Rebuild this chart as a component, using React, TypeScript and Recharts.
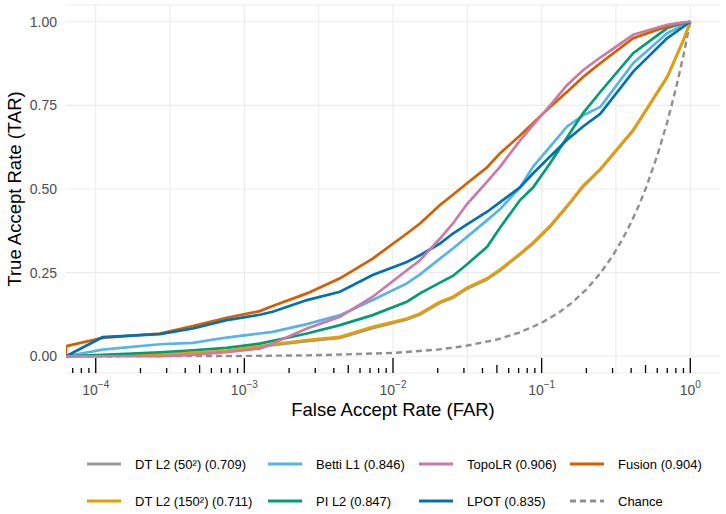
import React from 'react';
import { LineChart, Line, XAxis, YAxis, CartesianGrid, ReferenceLine } from 'recharts';

document.body.style.margin = '0';

// shared FAR grid (first value = left panel edge, i.e. FAR = 0 on the log axis)
const far = [
  6.31e-5, 1.11e-4, 2.7e-4, 4.5e-4, 7.6e-4, 1.27e-3, 1.55e-3, 2.64e-3, 4.4e-3, 7.3e-3,
  0.0124, 0.0152, 0.0207, 0.0253, 0.0315, 0.043, 0.0526, 0.0716, 0.0877, 0.114,
  0.1485, 0.19, 0.248, 0.413, 0.7, 0.9, 1,
];

const dt50Tar = [0, 0.001, 0.005, 0.009, 0.015, 0.027, 0.033, 0.045, 0.055, 0.084, 0.11, 0.125, 0.16, 0.175, 0.202, 0.23, 0.257, 0.304, 0.337, 0.387, 0.447, 0.507, 0.557, 0.674, 0.834, 0.945, 1];
const dt150Tar = [0, 0.002, 0.006, 0.01, 0.016, 0.03, 0.036, 0.048, 0.058, 0.088, 0.113, 0.128, 0.163, 0.178, 0.205, 0.233, 0.26, 0.307, 0.34, 0.39, 0.45, 0.51, 0.56, 0.677, 0.836, 0.946, 1];
const bettiTar = [0, 0.02, 0.036, 0.04, 0.056, 0.068, 0.073, 0.096, 0.123, 0.168, 0.218, 0.245, 0.292, 0.322, 0.357, 0.407, 0.44, 0.505, 0.567, 0.627, 0.687, 0.72, 0.745, 0.876, 0.966, 0.99, 1];
const piTar = [0, 0.004, 0.012, 0.018, 0.025, 0.038, 0.046, 0.068, 0.093, 0.123, 0.163, 0.188, 0.22, 0.24, 0.275, 0.327, 0.385, 0.467, 0.505, 0.577, 0.655, 0.727, 0.79, 0.906, 0.981, 0.996, 1];
const topoTar = [0, 0, 0, 0.004, 0.012, 0.023, 0.038, 0.083, 0.118, 0.178, 0.257, 0.287, 0.352, 0.397, 0.455, 0.522, 0.567, 0.645, 0.692, 0.75, 0.811, 0.855, 0.893, 0.961, 0.991, 0.998, 1];
const lpotTar = [0, 0.057, 0.066, 0.083, 0.108, 0.124, 0.133, 0.168, 0.193, 0.243, 0.282, 0.302, 0.337, 0.367, 0.394, 0.432, 0.461, 0.505, 0.547, 0.597, 0.647, 0.687, 0.725, 0.851, 0.951, 0.985, 1];

// fusion has an extra point at FAR = 0
const fusionFar = [6.31e-5, ...far];
const fusionTar = [0, 0.03, 0.055, 0.068, 0.09, 0.115, 0.135, 0.15, 0.188, 0.233, 0.292, 0.367, 0.397, 0.452, 0.483, 0.517, 0.565, 0.607, 0.66, 0.697, 0.745, 0.791, 0.835, 0.876, 0.951, 0.986, 0.997, 1];

const chanceFar = [6.31e-5, 0.001, 0.003, 0.01, 0.02, 0.03, 0.05, 0.07, 0.1, 0.13, 0.16, 0.2, 0.25, 0.3, 0.35, 0.4, 0.45, 0.5, 0.6, 0.7, 0.8, 0.9, 1];
const chanceTar = [0, 0.001, 0.003, 0.01, 0.02, 0.03, 0.05, 0.07, 0.1, 0.13, 0.16, 0.2, 0.25, 0.3, 0.35, 0.4, 0.45, 0.5, 0.6, 0.7, 0.8, 0.9, 1];

const yTicks = [0, 0.25, 0.5, 0.75, 1];
const decades = [-5, -4, -3, -2, -1, 0];
const mantissas = [1, 2, 3, 4, 5, 6, 7, 8, 9];
const gridExps = [-4, -3.5, -3, -2.5, -2, -1.5, -1, -0.5, 0];

const X_MIN = Math.pow(10, -4.2);
const X_MAX = Math.pow(10, 0.2);
const FONT = 'Liberation Sans, Arial, sans-serif';

const xTicks: number[] = [];
decades.forEach((d) =>
  mantissas.forEach((m) => {
    const v = m * Math.pow(10, d);
    if (v >= X_MIN && v <= 1.0001) xTicks.push(v);
  })
);

const zip = (xs: number[], ys: number[]) => xs.map((x, i) => ({ far: x, tar: ys[i] }));

const series = [
  { name: 'Chance', color: '#8f8f8f', data: zip(chanceFar, chanceTar), dash: '6 4' },
  { name: 'DT L2 (50²) (0.709)', color: '#999999', data: zip(far, dt50Tar) },
  { name: 'DT L2 (150²) (0.711)', color: '#E69F00', data: zip(far, dt150Tar) },
  { name: 'Betti L1 (0.846)', color: '#56B4E9', data: zip(far, bettiTar) },
  { name: 'PI L2 (0.847)', color: '#009E73', data: zip(far, piTar) },
  { name: 'Fusion (0.904)', color: '#D55E00', data: zip(fusionFar, fusionTar) },
  { name: 'LPOT (0.835)', color: '#0072B2', data: zip(far, lpotTar) },
  { name: 'TopoLR (0.906)', color: '#CC79A7', data: zip(far, topoTar) },
];

// legend, column by column
const legendItems = [
  { label: 'DT L2 (50²) (0.709)', color: '#999999', col: 0, row: 0 },
  { label: 'DT L2 (150²) (0.711)', color: '#E69F00', col: 0, row: 1 },
  { label: 'Betti L1 (0.846)', color: '#56B4E9', col: 1, row: 0 },
  { label: 'PI L2 (0.847)', color: '#009E73', col: 1, row: 1 },
  { label: 'TopoLR (0.906)', color: '#CC79A7', col: 2, row: 0 },
  { label: 'LPOT (0.835)', color: '#0072B2', col: 2, row: 1 },
  { label: 'Fusion (0.904)', color: '#D55E00', col: 3, row: 0 },
  { label: 'Chance', color: '#8f8f8f', col: 3, row: 1, dash: '6 4' },
];
const legendColX = [87, 268, 419, 570];
const legendRowY = [464, 501];

const LogTick = (props: any) => {
  const { x, y, payload } = props;
  const v: number = payload.value;
  const e = Math.floor(Math.log10(v) + 1e-9);
  const m = Math.round(v / Math.pow(10, e));
  const len = m === 1 ? 15 : m === 5 ? 8 : 5;
  return (
    <g>
      <line x1={x} x2={x} y1={y} y2={y - len} stroke="#000" strokeWidth={1.3} />
      {m === 1 && (
        <text x={x} y={y + 22} textAnchor="middle" fill="#4d4d4d" fontSize={14} fontFamily={FONT}>
          10
          <tspan dy={-7} fontSize={10}>{e === 0 ? '0' : `−${-e}`}</tspan>
        </text>
      )}
    </g>
  );
};

export default function App() {
  return (
    <div style={{ position: 'relative', width: 726, height: 514, background: '#fff' }}>
      <LineChart width={726} height={514} margin={{ top: 5, right: 6, left: 0, bottom: 81 }}>
        <CartesianGrid stroke="#ebebeb" strokeWidth={1.1} vertical={false} />
        {gridExps.map((g) => (
          <ReferenceLine key={g} x={Math.pow(10, g)} stroke="#ebebeb" strokeWidth={1.1} />
        ))}
        <XAxis
          dataKey="far"
          type="number"
          scale="log"
          domain={[X_MIN, X_MAX]}
          allowDataOverflow
          ticks={xTicks}
          interval={0}
          tick={<LogTick />}
          tickLine={false}
          axisLine={false}
          tickSize={0}
          tickMargin={0}
          height={60}
        />
        <YAxis
          type="number"
          domain={[-0.05, 1.05]}
          ticks={yTicks}
          tickFormatter={(v: number) => v.toFixed(2)}
          tick={{ fill: '#4d4d4d', fontSize: 14, fontFamily: FONT }}
          tickLine={false}
          axisLine={false}
          tickSize={6}
          tickMargin={3}
          width={66}
          allowDataOverflow
        />
        {series.map((s) => (
          <Line
            key={s.name}
            data={s.data}
            dataKey="tar"
            type="linear"
            stroke={s.color}
            strokeWidth={s.dash ? 2.4 : 2.7}
            strokeDasharray={s.dash}
            dot={false}
            activeDot={false}
            isAnimationActive={false}
          />
        ))}
      </LineChart>
      <svg
        width={726}
        height={514}
        style={{ position: 'absolute', left: 0, top: 0, pointerEvents: 'none' }}
        fontFamily={FONT}
      >
        <text x={393} y={416} textAnchor="middle" fontSize={18.5} fill="#000">
          False Accept Rate (FAR)
        </text>
        <text transform="translate(21,189) rotate(-90)" textAnchor="middle" fontSize={18.5} fill="#000">
          True Accept Rate (TAR)
        </text>
        {legendItems.map((it) => {
          const x = legendColX[it.col];
          const y = legendRowY[it.row];
          return (
            <g key={it.label}>
              <line x1={x} x2={x + 34} y1={y} y2={y} stroke={it.color} strokeWidth={3} strokeDasharray={it.dash} />
              <text x={x + 48} y={y + 4.5} fontSize={13} fill="#000">
                {it.label}
              </text>
            </g>
          );
        })}
      </svg>
    </div>
  );
}
